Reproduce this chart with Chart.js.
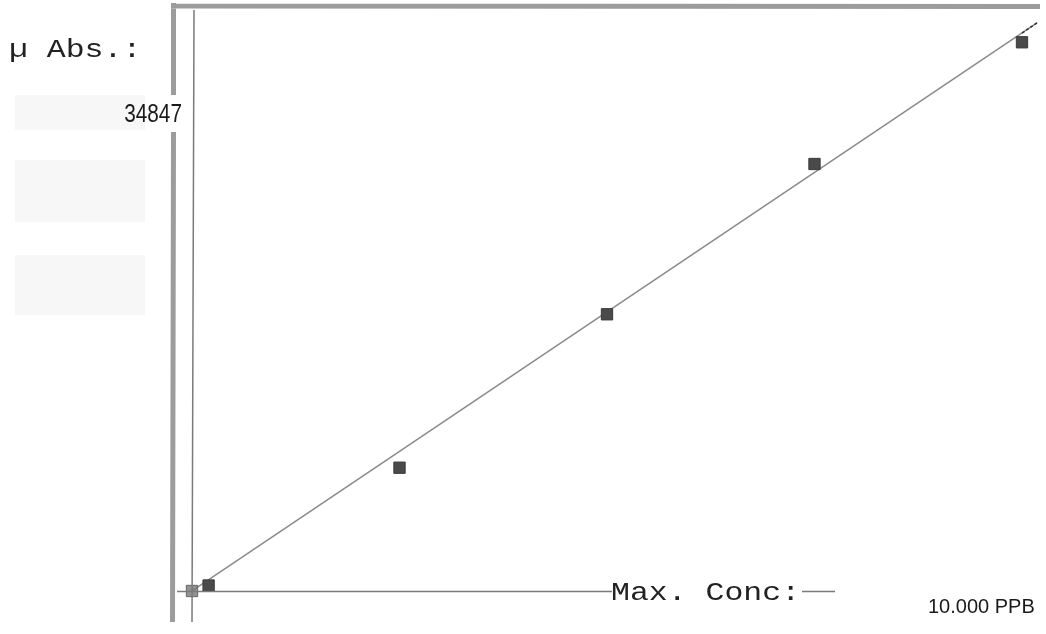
<!DOCTYPE html>
<html>
<head>
<meta charset="utf-8">
<script src="https://cdn.jsdelivr.net/npm/chart.js@4"></script>
<style>
  html, body { margin: 0; padding: 0; background: #fff; }
  #wrap { width: 1046px; height: 634px; position: relative; }
</style>
</head>
<body>
<div id="wrap"><canvas id="c" width="1046" height="634"></canvas></div>
<script>
// ---- data ----
const standardConc = [0.2, 2.5, 5.0, 7.5, 10.0];          // PPB
const standardAbs  = [349, 7830, 17573, 27118, 34847];    // µ Abs
const blankConc = [0];
const blankAbs  = [0];
const fitConc = [0, 10.18];
const fitAbs  = [0, 36073];
const yLabelText = 'µ Abs.:';
const maxAbsText = '34847';
const xLabelText = 'Max. Conc:';
const maxConcText = '10.000 PPB';

const toPts = (xs, ys) => xs.map((x, i) => ({ x: x, y: ys[i] }));

function scaledText(ctx, text, x, y, font, sx, color, align) {
  ctx.save();
  ctx.font = font;
  ctx.fillStyle = color;
  ctx.textBaseline = 'alphabetic';
  ctx.textAlign = align || 'left';
  ctx.translate(x, y);
  ctx.scale(sx, 1);
  ctx.fillText(text, 0, 0);
  ctx.restore();
}

const decor = {
  id: 'decor',
  beforeDraw(chart) {
    const ctx = chart.ctx;
    ctx.save();
    ctx.fillStyle = '#fff';
    ctx.fillRect(0, 0, chart.width, chart.height);
    // faint scan shading on the left
    ctx.fillStyle = '#f7f7f7';
    ctx.fillRect(15, 95, 130, 35);
    ctx.fillRect(15, 160, 130, 62);
    ctx.fillRect(15, 255, 130, 60);
    // thick grey frame
    ctx.strokeStyle = '#9c9c9c';
    ctx.lineWidth = 5;
    ctx.lineCap = 'butt';
    ctx.beginPath();
    ctx.moveTo(173.5, 3);
    ctx.lineTo(173.5, 95);
    ctx.moveTo(173.5, 132);
    ctx.lineTo(172.5, 622);
    ctx.moveTo(171, 6);
    ctx.lineTo(1040, 6.5);
    ctx.stroke();
    ctx.restore();
  },
  afterDatasetsDraw(chart) {
    const ctx = chart.ctx;
    const xs = chart.scales.x, ys = chart.scales.y;
    const x0 = xs.getPixelForValue(0);
    const y0 = ys.getPixelForValue(0);
    ctx.save();
    ctx.strokeStyle = '#7a7a7a';
    ctx.lineWidth = 1.5;
    ctx.beginPath();
    // vertical axis
    ctx.moveTo(x0 + 2, 10);
    ctx.lineTo(x0, 622);
    // horizontal axis, interrupted by the label
    ctx.moveTo(177, y0 + 0.5);
    ctx.lineTo(612, y0 + 0.5);
    ctx.moveTo(802, y0 + 0.5);
    ctx.lineTo(835, y0 + 0.5);
    ctx.stroke();
    // darker tail of the fit line beyond the last standard
    const xa = xs.getPixelForValue(standardConc[standardConc.length - 1]);
    const xb = xs.getPixelForValue(fitConc[1]);
    const slope = fitAbs[1] / fitConc[1];
    ctx.strokeStyle = '#333';
    ctx.setLineDash([3, 2]);
    ctx.beginPath();
    ctx.moveTo(xa, ys.getPixelForValue(slope * standardConc[standardConc.length - 1]));
    ctx.lineTo(xb, ys.getPixelForValue(fitAbs[1]));
    ctx.stroke();
    ctx.restore();
    // texts
    scaledText(ctx, yLabelText, 9, 57, '25px "Liberation Mono"', 1.26, '#222');
    scaledText(ctx, xLabelText, 611, 600, '25px "Liberation Mono"', 1.26, '#222');
    scaledText(ctx, maxAbsText, 182, 122, '26px "Liberation Sans"', 0.8, '#1a1a1a', 'right');
    scaledText(ctx, maxConcText, 928, 613, '20px "Liberation Sans"', 1.0, '#1a1a1a');
  }
};

new Chart(document.getElementById('c'), {
  type: 'scatter',
  data: {
    datasets: [
      {
        type: 'line',
        label: 'Fit',
        data: toPts(fitConc, fitAbs),
        borderColor: '#8a8a8a',
        borderWidth: 1.5,
        pointRadius: 0,
        fill: false,
        order: 3
      },
      {
        label: 'Blank',
        data: toPts(blankConc, blankAbs),
        pointStyle: 'rect',
        pointRadius: 8,
        backgroundColor: 'rgba(120,120,120,0.8)',
        borderColor: '#666',
        borderWidth: 1,
        order: 2
      },
      {
        label: 'Standards',
        data: toPts(standardConc, standardAbs),
        pointStyle: 'rect',
        pointRadius: 8,
        backgroundColor: '#4a4a4a',
        borderColor: '#3a3a3a',
        borderWidth: 1,
        order: 1
      }
    ]
  },
  options: {
    responsive: false,
    animation: false,
    devicePixelRatio: 1,
    layout: { autoPadding: false, padding: { left: 176, right: 4, top: 10, bottom: 8 } },
    plugins: { legend: { display: false }, title: { display: false }, tooltip: { enabled: false } },
    scales: {
      x: { type: 'linear', display: false, min: -0.1928, max: 10.241 },
      y: { type: 'linear', display: false, min: -2223, max: 36898 }
    }
  },
  plugins: [decor]
});
</script>
</body>
</html>
